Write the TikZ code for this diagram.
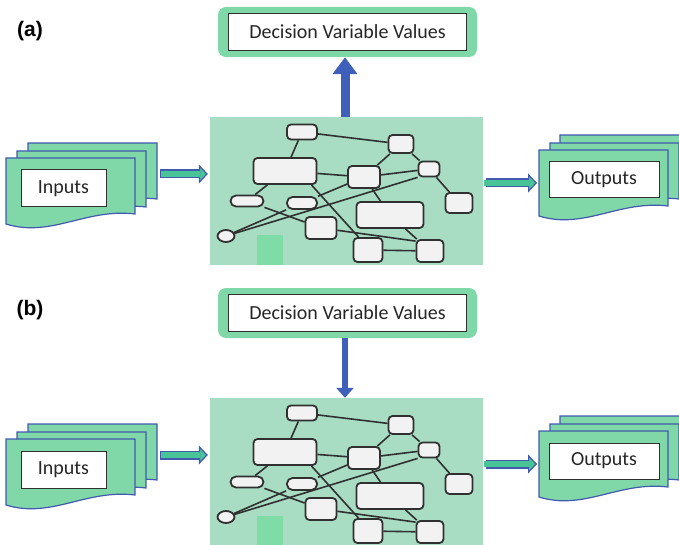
\documentclass[tikz,border=0pt]{standalone}
\usepackage{fontspec}
\setmainfont{Carlito}
\newfontfamily\labelfont{Liberation Sans}
\usetikzlibrary{arrows.meta,shapes.geometric}

\definecolor{mint}{RGB}{128,216,168}
\definecolor{panelbg}{RGB}{168,221,196}
\definecolor{patch}{RGB}{128,220,166}
\definecolor{docblue}{RGB}{65,90,175}
\definecolor{arrteal}{RGB}{72,196,150}
\definecolor{bluearr}{RGB}{62,96,186}
\definecolor{nodeline}{RGB}{48,48,48}
\definecolor{nodefill}{RGB}{242,242,242}
\definecolor{txt}{RGB}{38,38,38}

\pgfdeclarelayer{bg}
\pgfdeclarelayer{edges}
\pgfsetlayers{bg,edges,main}

\tikzset{
  netbox/.style={draw=nodeline, fill=nodefill, line width=1.8pt, rounded corners=4pt,
    inner sep=0pt, minimum width=#1},
  pill/.style={draw=nodeline, fill=nodefill, line width=1.8pt, rounded corners=5.5pt,
    inner sep=0pt, minimum width=#1},
  netedge/.style={draw=nodeline, line width=1.6pt},
  docline/.style={draw=docblue, fill=mint, line width=1.2pt},
  textbox/.style={draw=nodeline, fill=white, line width=1pt, inner sep=0pt,
    text=txt, font=\fontsize{20}{24}\selectfont},
  decouter/.style={fill=mint, rounded corners=8pt, minimum width=259pt, minimum height=50pt, inner sep=0pt},
  panelbox/.style={fill=panelbg, minimum width=273pt, minimum height=148pt, inner sep=0pt},
  flatarrow/.style={draw=docblue, line width=9pt,
    -{Triangle[width=19pt,length=9pt,fill=arrteal,color=docblue,line width=1.2pt]},
    postaction={draw=arrteal, line width=6.6pt, -, shorten >=#1, shorten <=1.2pt}},
  bigarrow/.style={draw=bluearr, line width=9pt, -{Triangle[width=24pt,length=17pt]}},
  tag/.style={font=\labelfont\bfseries\fontsize{21}{24}\selectfont, text=black},
  docpage/.pic={
    \filldraw[docline] (0,0) -- (129,0) -- (129,56)
      .. controls (80,50) and (45,80) .. (0,66) -- cycle;
  }
}

% one panel: decision box, model area with its network, stacked inputs and outputs
\newcommand\panelcontent[1]{
  % decision variable box
  \node[decouter] (dec#1) at (347.5,32) {};
  \node[textbox, minimum width=238pt, minimum height=37pt] (dect#1) at (dec#1) {Decision Variable Values};
  % model area
  \begin{pgfonlayer}{bg}
    \node[panelbox] (ctr#1) at (346.5,191) {};
    \fill[patch] (257,235) rectangle (283,265);
  \end{pgfonlayer}
  % network nodes
  \node[netbox=30pt, minimum height=15pt] (n1#1) at (302,132) {};
  \node[netbox=25pt, minimum height=18pt] (n2#1) at (401,144) {};
  \node[netbox=63pt, minimum height=26pt] (n3#1) at (285,171) {};
  \node[netbox=32pt, minimum height=22pt] (n4#1) at (364,177) {};
  \node[netbox=21pt, minimum height=15pt] (n5#1) at (429,169) {};
  \node[pill=33pt, minimum height=11pt] (n6#1) at (247,201) {};
  \node[pill=30pt, minimum height=12pt] (n7#1) at (302,203) {};
  \node[netbox=67pt, minimum height=26pt] (n8#1) at (390,215) {};
  \node[netbox=27pt, minimum height=20pt] (n9#1) at (459,203) {};
  \node[netbox=31pt, minimum height=22pt] (n10#1) at (321,228) {};
  \node[ellipse, draw=nodeline, fill=nodefill, line width=1.8pt, inner sep=0pt,
        minimum width=17pt, minimum height=12pt] (n11#1) at (226,236) {};
  \node[netbox=29pt, minimum height=24pt] (n12#1) at (368,250) {};
  \node[netbox=27pt, minimum height=22pt] (n13#1) at (430,251) {};
  % network links
  \begin{pgfonlayer}{edges}
    \draw[netedge] (n1#1) -- (n2#1);
    \draw[netedge] (n1#1) -- (n3#1);
    \draw[netedge] (n3#1) -- (n4#1);
    \draw[netedge] (n2#1) -- (n4#1);
    \draw[netedge] (n2#1) -- (n5#1);
    \draw[netedge] (n4#1) -- (n5#1);
    \draw[netedge] (n5#1) -- (n9#1);
    \draw[netedge] (n5#1.south west) -- (n11#1);
    \draw[netedge] (n3#1) -- (n6#1);
    \draw[netedge] (n6#1) -- (n10#1);
    \draw[netedge] ([xshift=-6pt]n3#1.south east) -- ([xshift=6pt]n12#1.north west);
    \draw[netedge] (n7#1) -- (n4#1);
    \draw[netedge] (n4#1) -- (n8#1);
    \draw[netedge] (n8#1) -- (n13#1);
    \draw[netedge] (n10#1) -- ([yshift=-2pt]n13#1.north west);
    \draw[netedge] (n12#1) -- (n13#1);
    \draw[netedge] (n11#1) -- (n7#1);
  \end{pgfonlayer}
  % stacked input pages
  \pic at (28,143) {docpage};
  \pic at (17,151) {docpage};
  \pic at (6,158) {docpage};
  \node[textbox, minimum width=85pt, minimum height=37pt] (inp#1) at (63.5,188.5) {Inputs};
  % stacked output pages
  \pic at (560,135) {docpage};
  \pic at (550,143) {docpage};
  \pic at (539,150) {docpage};
  \node[textbox, minimum width=110pt, minimum height=36pt] (out#1) at (604,180) {Outputs};
  % flow arrows
  \coordinate (ia#1) at (160,174);
  \coordinate (oa#1) at (537,183);
  \draw[flatarrow=10pt, shorten >=2pt] (ia#1) -- (ia#1 -| ctr#1.west);
  \draw[flatarrow=8pt, shorten <=3pt] (oa#1 -| ctr#1.east) -- (oa#1);
  \coordinate (ax#1) at (345,0);
}

\begin{document}
\begin{tikzpicture}[x=1pt, y=-1pt]
  \useasboundingbox (0,0) rectangle (679,545);
  \clip (0,0) rectangle (679,545);

  % panel (a): decisions read out of the model
  \panelcontent{a}
  \node[tag] (taga) at (30,31) {(a)};
  \draw[bigarrow] (ctra.north -| axa) -- (deca.south -| axa);

  % panel (b): decisions fed into the model
  \begin{scope}[yshift=-281pt]
    \panelcontent{b}
    \node[tag] (tagb) at (30,29) {(b)};
    \draw[draw=bluearr, line width=6.5pt, -{Triangle[width=17pt,length=10pt]}]
      (decb.south -| axb) -- (ctrb.north -| axb);
  \end{scope}
\end{tikzpicture}
\end{document}
